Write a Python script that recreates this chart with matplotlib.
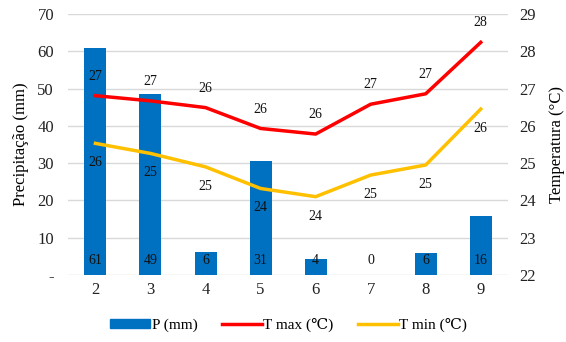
import matplotlib
matplotlib.use("Agg")
import matplotlib.pyplot as plt
import numpy as np
from matplotlib.patches import Patch
from matplotlib.lines import Line2D

plt.rcParams["font.family"] = ["Liberation Serif", "DejaVu Serif"]

months = [2, 3, 4, 5, 6, 7, 8, 9]
precip = [61.0, 48.6, 6.2, 30.6, 4.4, 0.0, 5.8, 15.8]
t_max = [26.81, 26.67, 26.49, 25.93, 25.78, 26.58, 26.86, 28.24]
t_min = [25.53, 25.26, 24.90, 24.32, 24.10, 24.68, 24.95, 26.45]

c_bar = "#0070C0"
c_max = "#FF0000"
c_min = "#FFC000"

fig = plt.figure(figsize=(5.66, 3.42), dpi=100)
ax = fig.add_axes([0.120, 0.196, 0.778, 0.763])
ax2 = ax.twinx()

x = np.arange(len(months))
ax.bar(x, precip, width=0.4, color=c_bar, zorder=2)
for xi, v in zip(x, precip):
    ax.text(xi, 4, f"{v:.0f}", ha="center", va="center", fontsize=10, color="#111111", zorder=3)

ax.set_ylim(0, 70)
ax.set_yticks(range(0, 71, 10))
ax.set_yticklabels(["-"] + [str(v) for v in range(10, 71, 10)])
ax.set_xlim(-0.5, len(months) - 0.5)
ax.set_xticks(x)
ax.set_xticklabels([str(m) for m in months])
ax.grid(axis="y", color="#D9D9D9", linewidth=1, zorder=0)
ax.set_axisbelow(True)
ax.set_ylabel("Precipitação (mm)", fontsize=12, labelpad=6)

ax2.plot(x, t_max, color=c_max, linewidth=2.5, zorder=4)
ax2.plot(x, t_min, color=c_min, linewidth=2.5, zorder=4)
for xi, v in zip(x, t_max):
    ax2.annotate(f"{round(v):.0f}", (xi, v), xytext=(0, 14), textcoords="offset points",
                 ha="center", va="center", fontsize=10, color="#111111")
for xi, v in zip(x, t_min):
    ax2.annotate(f"{round(v):.0f}", (xi, v), xytext=(0, -14), textcoords="offset points",
                 ha="center", va="center", fontsize=10, color="#111111")
ax2.set_ylim(22, 29)
ax2.set_yticks(range(22, 30))
ax2.set_ylabel("Temperatura (°C)", fontsize=12, labelpad=9)

for a in (ax, ax2):
    for s in a.spines.values():
        s.set_visible(False)
    a.tick_params(length=0, labelsize=12, colors="#222222")
ax.tick_params(axis="x", pad=5)
ax.tick_params(axis="y", pad=10)
ax2.tick_params(axis="y", pad=8)
ax2.set_zorder(ax.get_zorder() + 1)
ax2.patch.set_visible(False)

handles = [
    Patch(color=c_bar, label="P (mm)"),
    Line2D([], [], color=c_max, linewidth=2.5, label="T max (℃)"),
    Line2D([], [], color=c_min, linewidth=2.5, label="T min (℃)"),
]
fig.legend(handles=handles, loc="center", bbox_to_anchor=(0.51, 0.05), ncol=3, frameon=False,
           fontsize=11, handlelength=2.6, handleheight=0.6, columnspacing=1.6, handletextpad=0.1)

fig.savefig("out.png", dpi=100)
